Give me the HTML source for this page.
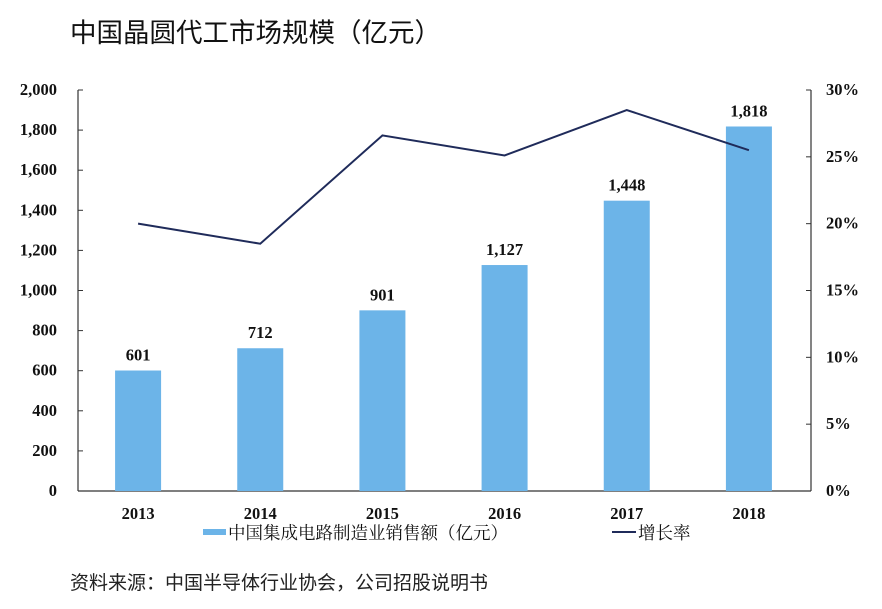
<!DOCTYPE html>
<html><head><meta charset="utf-8">
<style>
body{margin:0;background:#fff;}
svg{display:block;}
.t{font-family:"Liberation Serif","Noto Serif CJK SC",serif;font-weight:bold;font-size:16.5px;fill:#111;}
</style></head>
<body>
<svg width="882" height="609">
<text x="70" y="42" font-family="Liberation Sans,'Noto Sans CJK SC',sans-serif" font-size="26.5" fill="#111">中国晶圆代工市场规模（亿元）</text>
<g id="axes"></g>
<g id="bars"></g>
<g id="line"></g>
<g>
<rect x="203" y="529" width="23" height="6" fill="#6cb4e8"/>
<text x="228" y="539" font-family="'Liberation Serif','Noto Serif CJK SC',serif" font-size="17.5" fill="#111">中国集成电路制造业销售额（亿元）</text>
<line x1="612" y1="532" x2="636" y2="532" stroke="#1f2b5a" stroke-width="2"/>
<text x="638" y="539" font-family="'Liberation Serif','Noto Serif CJK SC',serif" font-size="17.5" fill="#111">增长率</text>
</g>
<text x="70" y="589" font-family="Liberation Sans,'Noto Sans CJK SC',sans-serif" font-size="19" fill="#222">资料来源：中国半导体行业协会，公司招股说明书</text>
</svg>
<script>
const years=["2013","2014","2015","2016","2017","2018"];
const sales=[601,712,901,1127,1448,1818];
const growth=[20.0,18.5,26.6,25.1,28.5,25.5];
const leftTicks=[0,200,400,600,800,1000,1200,1400,1600,1800,2000];
const rightTicks=[0,5,10,15,20,25,30];

const NS="http://www.w3.org/2000/svg";
const X0=78,X1=811,Y0=491,Y1=90;
const yL=v=>Y0-(v/2000)*(Y0-Y1);
const yR=v=>Y0-(v/30)*(Y0-Y1);
const step=(X1-X0)/years.length;
const xC=i=>X0+step*(i+0.5)-1;
function mk(tag,attrs,parent,txt){const e=document.createElementNS(NS,tag);for(const k in attrs)e.setAttribute(k,attrs[k]);if(txt!==undefined)e.textContent=txt;parent.appendChild(e);return e;}
const axes=document.getElementById('axes');
let e;
e=mk('line',{x1:X0,y1:Y1,x2:X0,y2:Y0,stroke:'#333','stroke-width':1.2},axes);


e=mk('line',{x1:X1,y1:Y1,x2:X1,y2:Y0,stroke:'#333','stroke-width':1.2},axes);


e=mk('line',{x1:X0,y1:Y0,x2:X1,y2:Y0,stroke:'#333','stroke-width':1.2},axes);


leftTicks.forEach(v=>{
  mk('line',{x1:X0,y1:yL(v),x2:X0+5,y2:yL(v),stroke:'#333'},axes);
  e=mk('text',{x:57,y:yL(v)+5,'text-anchor':'end',class:'t'},axes,v.toLocaleString('en-US'));
  
  
});
rightTicks.forEach(v=>{
  mk('line',{x1:X1-5,y1:yR(v),x2:X1,y2:yR(v),stroke:'#333'},axes);
  e=mk('text',{x:826,y:yR(v)+5,class:'t'},axes,v+'%');
  
  
});
const bars=document.getElementById('bars');
years.forEach((y,i)=>{
  e=mk('rect',{x:xC(i)-23,y:yL(sales[i]),width:46,height:Y0-yL(sales[i]),fill:'#6cb4e8'},bars);
  
  
  e=mk('text',{x:xC(i),y:yL(sales[i])-10,'text-anchor':'middle',class:'t'},bars,sales[i].toLocaleString('en-US'));
  
  
  e=mk('text',{x:xC(i),y:519,'text-anchor':'middle',class:'t'},bars,y);
  
  
});
const lg=document.getElementById('line');
e=mk('polyline',{points:growth.map((g,i)=>xC(i)+','+yR(g)).join(' '),fill:'none',stroke:'#1f2b5a','stroke-width':2},lg);


</script>
</body></html>
